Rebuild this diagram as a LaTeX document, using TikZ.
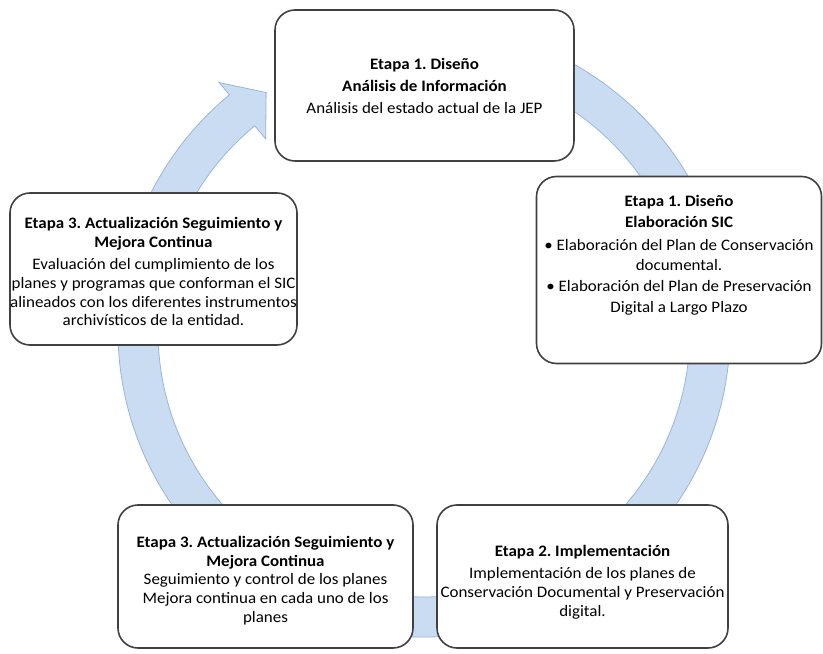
\documentclass[tikz,border=0pt]{standalone}
\usepackage{fontspec}
\setmainfont{Carlito}[FakeStretch=1.06]
\usepackage{tikz}
\definecolor{cicloazul}{RGB}{202,220,242}
\definecolor{cicloborde}{RGB}{150,182,222}
\frenchspacing

\begin{document}
\begin{tikzpicture}[x=0.75pt,y=0.75pt,
  etapa/.style={draw=black!75, line width=1.2pt, rounded corners=15pt, fill=white,
    align=center, font=\fontsize{12}{14}\selectfont, inner sep=2pt},
  etapatxt/.style={align=center, font=\fontsize{12}{14}\selectfont, inner sep=0pt},
  ciclo/.style={fill=cicloazul, draw=cicloborde, line width=0.6pt}]
\useasboundingbox (0,0) rectangle (823,653);

% flecha circular de fondo
\begin{scope}[shift={(424,322)}]
\filldraw[ciclo] (100:306) arc[start angle=100, end angle=-230.5, radius=306]
  -- (-230.5:322) -- (-236.5:286) -- (-230.5:249) -- (-230.5:266)
  arc[start angle=-230.5, end angle=100, radius=266] -- cycle;
\end{scope}

% etapas
\node[etapa, minimum width=224.25pt, minimum height=113.25pt] (diseno) at (424.5,567.5)
  {\textbf{Etapa 1. Diseño}\\[2.5pt]\textbf{Análisis de Información}\\[2.5pt]Análisis del estado actual de la JEP};

\node[etapa, minimum width=213.75pt, minimum height=140.25pt] (elaboracion) at (679,383) {};
\node[etapatxt] (elaboracion-txt) at ([yshift=11pt]elaboracion.center)
  {\textbf{Etapa 1. Diseño}\\[1.5pt]\textbf{Elaboración SIC}\\[3pt]%
   \textbullet\ Elaboración del Plan de Conservación\\[1.5pt]documental.\\[1.5pt]%
   \textbullet\ Elaboración del Plan de Preservación\\[1.5pt]Digital a Largo Plazo};

\node[etapa, minimum width=218.25pt, minimum height=107.25pt] (implementacion) at (582.5,76.5) {};
\node[etapatxt] (implementacion-txt) at ([yshift=-4pt]implementacion.center)
  {\textbf{Etapa 2. Implementación}\\[3pt]Implementación de los planes de\\Conservación Documental y Preservación\\digital.};

\node[etapa, minimum width=221.25pt, minimum height=107.25pt] (seguimiento) at (265.5,76.5) {};
\node[etapatxt] (seguimiento-txt) at ([yshift=-3pt]seguimiento.center)
  {\textbf{Etapa 3. Actualización Seguimiento y}\\\textbf{Mejora Continua}\\Seguimiento y control de los planes\\Mejora continua en cada uno de los\\planes};

\node[etapa, minimum width=215.25pt, minimum height=114pt] (actualizacion) at (153.5,384) {};
\node[etapatxt] (actualizacion-txt) at ([yshift=-2pt]actualizacion.center)
  {\textbf{Etapa 3. Actualización Seguimiento y}\\\textbf{Mejora Continua}\\[3pt]Evaluación del cumplimiento de los\\planes y programas que conforman el SIC\\alineados con los diferentes instrumentos\\archivísticos de la entidad.};
\end{tikzpicture}
\end{document}
